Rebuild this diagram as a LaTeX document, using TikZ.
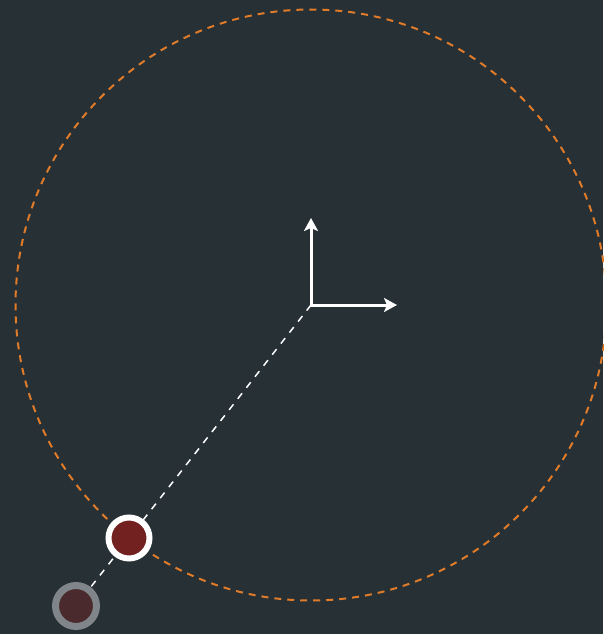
\documentclass[tikz,border=0pt]{standalone}
\usetikzlibrary{arrows.meta}
\definecolor{bgc}{HTML}{263035}
\definecolor{orbit}{HTML}{E07B2A}
\definecolor{ballred}{HTML}{722020}
\definecolor{ghostfill}{HTML}{4A2A2D}
\definecolor{ghostring}{HTML}{7F8588}
\pgfdeclarelayer{bgl}
\pgfdeclarelayer{lines}
\pgfsetlayers{bgl,lines,main}
\tikzset{
  axis/.style={white, line width=3pt, line cap=rect, -{Stealth[length=13pt,width=14pt,inset=3pt]}},
  orbitline/.style={orbit, line width=2pt, dash pattern=on 7pt off 6pt},
  radial/.style={white, line width=1.5pt, dash pattern=on 7pt off 7pt},
  ball/.style={circle, draw=white, fill=ballred, line width=6pt, inner sep=0pt, minimum size=41pt},
  ghost/.style={circle, draw=ghostring, fill=ghostfill, line width=7pt, inner sep=0pt, minimum size=41pt}
}
\begin{document}
\begin{tikzpicture}[x=1pt,y=-1pt]
\begin{pgfonlayer}{bgl}
\fill[bgc] (0,0) rectangle (603,634);
\end{pgfonlayer}
\useasboundingbox (0,0) rectangle (603,634);
\clip (0,0) rectangle (603,634);
\coordinate (O) at (311,305);
\coordinate (X) at (397,305);
\coordinate (Y) at (311,218);
\node[ghost] (G) at (76,606) {};
\node[ball] (P) at (129,538) {};
\begin{pgfonlayer}{lines}
\draw[orbitline] (O) circle[radius=295.5];
\draw[radial] (O) -- (G);
\end{pgfonlayer}
\draw[axis] (O) -- (Y);
\draw[axis] (O) -- (X);
\end{tikzpicture}
\end{document}
